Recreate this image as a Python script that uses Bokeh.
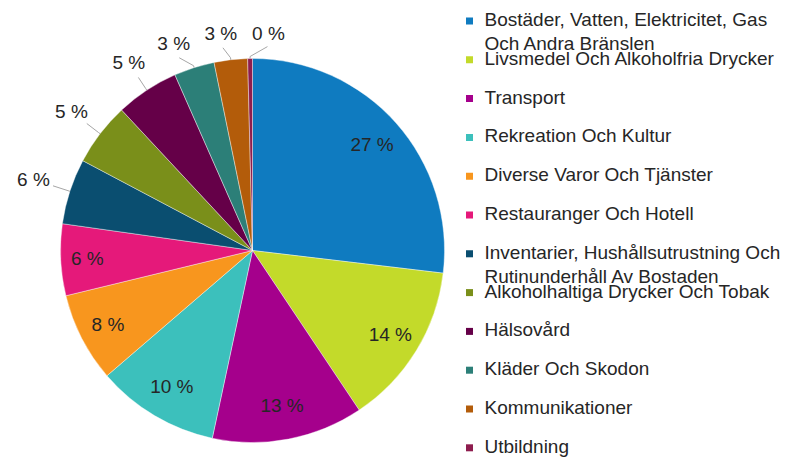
import math
from bokeh.plotting import figure
from bokeh.models import Range1d
from bokeh.core.properties import value
from bokeh.embed import file_html
from bokeh.resources import INLINE

# ---- data ----
categories = [
    "Bostäder, Vatten, Elektricitet, Gas\nOch Andra Bränslen",
    "Livsmedel Och Alkoholfria Drycker",
    "Transport",
    "Rekreation Och Kultur",
    "Diverse Varor Och Tjänster",
    "Restauranger Och Hotell",
    "Inventarier, Hushållsutrustning Och\nRutinunderhåll Av Bostaden",
    "Alkoholhaltiga Drycker Och Tobak",
    "Hälsovård",
    "Kläder Och Skodon",
    "Kommunikationer",
    "Utbildning",
]
shares = [26.8, 13.7, 12.7, 10.3, 7.5, 6.0, 5.5, 5.3, 5.3, 3.4, 2.8, 0.4]
colors = ["#0F7BC0", "#C3DA2A", "#A5008C", "#3CC0BC", "#F8961E", "#E5197A",
          "#0A4E70", "#7A8F1A", "#650048", "#2C7F78", "#B35C0A", "#8E1D4E"]

# ---- layout ----
W, H = 785, 459
CX, CY, R = 252, 209, 192
FONT = value("Liberation Sans")
FS = "19px"
TXT = "#262626"

p = figure(width=W, height=H, output_backend="svg", toolbar_location=None,
           x_range=Range1d(0, W), y_range=Range1d(0, H), min_border=0)
p.axis.visible = False
p.grid.visible = False
p.outline_line_color = None

total = sum(shares)
starts, ends, mids = [], [], []
cum = 0.0
for v in shares:
    a0 = math.pi / 2 - 2 * math.pi * cum / total
    cum += v
    a1 = math.pi / 2 - 2 * math.pi * cum / total
    starts.append(a1)
    ends.append(a0)
    mids.append((a0 + a1) / 2)

p.wedge(x=CX, y=CY, radius=R, start_angle=starts, end_angle=ends,
        direction="anticlock", fill_color=colors, line_color="white", line_width=0.4)

# inside labels
pct = [f"{round(v)} %" for v in shares]
inside = [v >= 6 for v in shares]
ix, iy, it = [], [], []
for m, t, ins in zip(mids, pct, inside):
    if ins:
        rl = 0.82 * R + 8 * abs(math.cos(m)) ** 4
        ix.append(CX + rl * math.cos(m))
        iy.append(CY + rl * math.sin(m))
        it.append(t)
p.text(x=ix, y=iy, text=it, text_font=FONT, text_font_size=FS, text_color=TXT,
       text_align="center", text_baseline="middle")

# outside labels with angular spreading
out_idx = [i for i, ins in enumerate(inside) if not ins]
ang = {i: math.degrees(mids[i]) for i in out_idx}
order = sorted(out_idx, key=lambda i: -ang[i])
for _ in range(200):
    for a, b in zip(order[:-1], order[1:]):
        gap = ang[a] - ang[b]
        if gap < 12.5:
            d = (12.5 - gap) / 2
            ang[a] += d
            ang[b] -= d
lx, ly, lt, xs, ys = [], [], [], [], []
for i in out_idx:
    a = math.radians(ang[i])
    rr = R + 25 + 14 * abs(math.cos(a))
    lx.append(CX + rr * math.cos(a))
    ly.append(CY + rr * math.sin(a))
    lt.append(pct[i])
    r2 = rr - 13 - 8 * abs(math.cos(a))
    xs.append([CX + r2 * math.cos(a), CX + (R + 2) * math.cos(mids[i]), CX + R * math.cos(mids[i])])
    ys.append([CY + r2 * math.sin(a), CY + (R + 2) * math.sin(mids[i]), CY + R * math.sin(mids[i])])
p.multi_line(xs=xs, ys=ys, line_color="#A6A6A6", line_width=1)
p.text(x=lx, y=ly, text=lt, text_font=FONT, text_font_size=FS, text_color=TXT,
       text_align="center", text_baseline="middle")

# legend
sq_x, tx_x, y0, dy, lh = 469, 484, 440, 38.8, 24
sqx, sqy, gx, gy, gt = [], [], [], [], []
for k, (name, c) in enumerate(zip(categories, colors)):
    yy = y0 - dy * k
    sqx.append(sq_x)
    sqy.append(yy - 1.5)
    for j, line in enumerate(name.split("\n")):
        gx.append(tx_x)
        gy.append(yy - lh * j)
        gt.append(line)
p.rect(x=sqx, y=sqy, width=7, height=7, fill_color=colors, line_color=None)
p.text(x=gx, y=gy, text=gt, text_font=FONT, text_font_size=FS, text_color=TXT,
       text_align="left", text_baseline="middle")

open("out.html", "w").write(file_html(p, INLINE))
